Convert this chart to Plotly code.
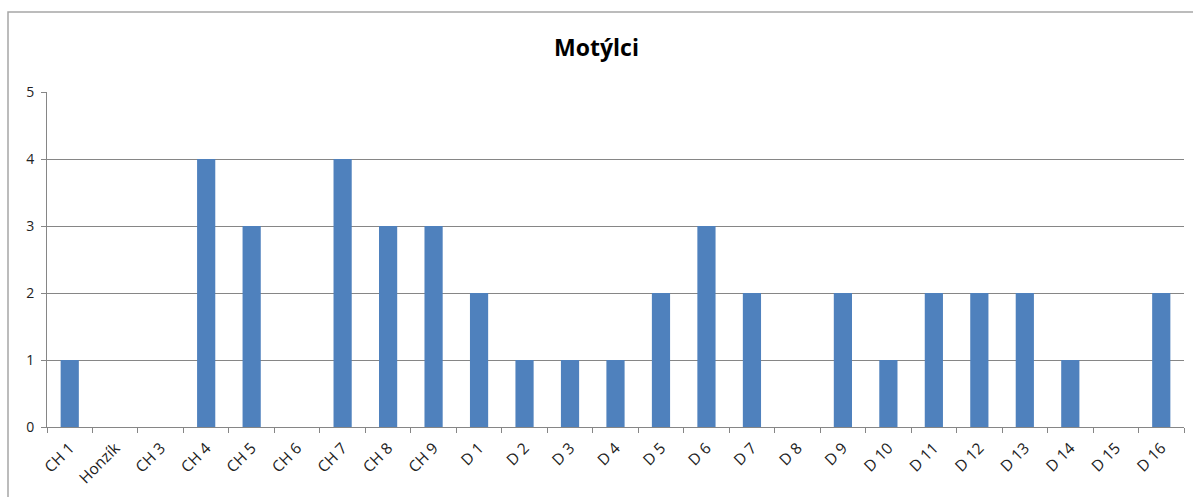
import plotly.graph_objects as go

categories = ["CH 1", "Honzík", "CH 3", "CH 4", "CH 5", "CH 6", "CH 7", "CH 8", "CH 9",
              "D 1", "D 2", "D 3", "D 4", "D 5", "D 6", "D 7", "D 8", "D 9", "D 10",
              "D 11", "D 12", "D 13", "D 14", "D 15", "D 16"]
values = [1, 0, 0, 4, 3, 0, 4, 3, 3, 2, 1, 1, 1, 2, 3, 2, 0, 2, 1, 2, 2, 2, 1, 0, 2]
y_ticks = [0, 1, 2, 3, 4, 5]

FONT = "Open Sans, Lato, sans-serif"

fig = go.Figure(go.Bar(x=categories, y=values, marker=dict(color="#4F81BD", line=dict(width=0)),
                       hoverinfo="skip"))

W, H = 1193, 497
L, R, T, B = 47, 1184, 92, 427

fig.update_layout(
    width=W, height=H,
    margin=dict(l=L, r=W - R, t=T, b=H - B, pad=0, autoexpand=False),
    paper_bgcolor="white", plot_bgcolor="white",
    bargap=0.6,
    showlegend=False,
    title=dict(text="<b>Motýlci</b>", x=0.5, xanchor="center", y=1 - 48 / H, yanchor="middle",
               font=dict(family=FONT, size=23, color="black")),
    font=dict(family=FONT, size=14, color="black"),
    xaxis=dict(
        tickangle=-45, showgrid=False, showline=True, linecolor="#868686", linewidth=1,
        ticks="outside", ticklen=5, tickcolor="#868686", tickson="boundaries",
        ticklabelstandoff=5,
        tickfont=dict(family=FONT, size=15.5, color="#222222"), fixedrange=True, automargin=False,
    ),
    yaxis=dict(
        range=[0, 5], tickvals=y_ticks, showgrid=True, gridcolor="#868686", gridwidth=1,
        showline=True, linecolor="#868686", linewidth=1, ticks="outside", ticklen=5,
        tickcolor="#868686", zeroline=False, tickfont=dict(family=FONT, size=14, color="#222222"),
        ticklabelstandoff=4, fixedrange=True, automargin=False,
    ),
)

# outer chart border
fig.add_shape(type="rect", xref="paper", yref="paper",
              x0=(8 - L) / (R - L), x1=(1200 - L) / (R - L),
              y0=(B - 505) / (B - T), y1=(B - 12) / (B - T),
              line=dict(color="#A6A6A6", width=1.5), fillcolor="rgba(0,0,0,0)", layer="below")

fig.write_html("out.html", config={"displayModeBar": False},
               post_script="document.body.style.margin='0';")
